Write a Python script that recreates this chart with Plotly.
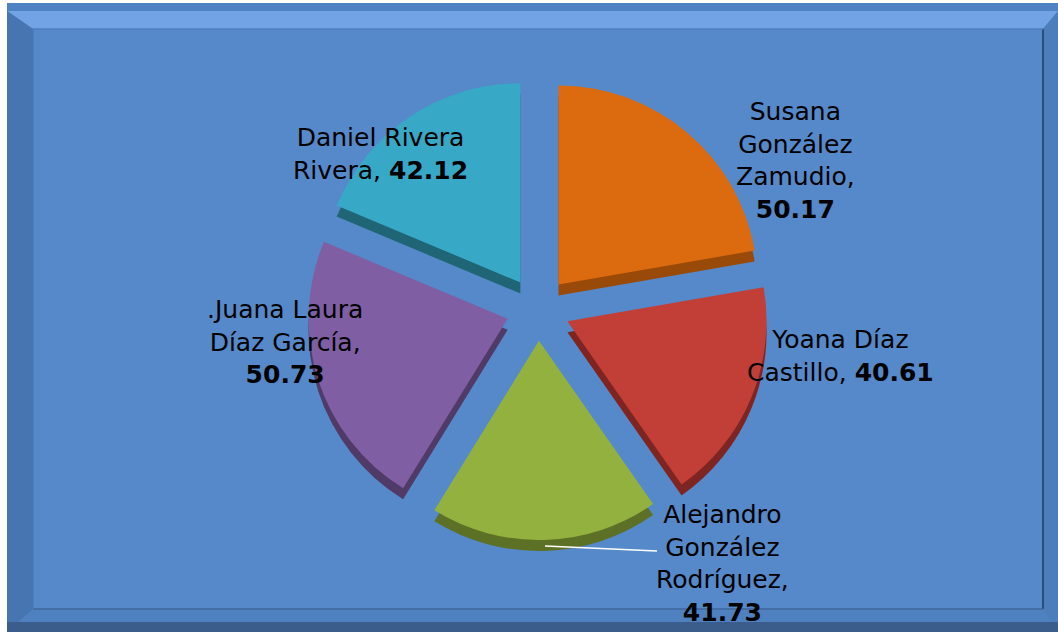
import plotly.graph_objects as go

# ---- data ----
names = ["Susana González Zamudio", "Yoana Díaz Castillo", "Alejandro González Rodríguez",
         ".Juana Laura Díaz García", "Daniel Rivera Rivera"]
values = [50.17, 40.61, 41.73, 50.73, 42.12]
label_lines = [["Susana", "González", "Zamudio,"], ["Yoana Díaz", "Castillo,"],
               ["Alejandro", "González", "Rodríguez,"], [".Juana Laura", "Díaz García,"],
               ["Daniel Rivera", "Rivera,"]]

# ---- styles ----
colors = ["#dc6a0e", "#c23f37", "#93b13f", "#7f5ea3", "#37a8c6"]
side_colors = ["#9a4a08", "#7e2522", "#5d7126", "#4f3a68", "#1f6575"]
label_pos = [(795, 160, "before"), (840, 356, "inline"), (722, 563, "before"),
             (285, 342, "before"), (380, 154, "inline")]

W, H = 1058, 632
BG = "#5689c9"


def px(x):
    return x / W


def py(y):
    return 1 - y / H


cx, cy, R = 538, 309, 231
depth = 11
dom_x = [px(cx - R), px(cx + R)]
dom_y = [py(cy + R), py(cy - R)]
dom_y_side = [py(cy + R + depth), py(cy - R + depth)]

fig = go.Figure()
pull = [0.16] * len(values)
# extruded side (3D look)
fig.add_trace(go.Pie(values=values, labels=names, sort=False, direction="clockwise", rotation=0,
                     pull=pull, marker=dict(colors=side_colors, line=dict(width=0)),
                     textinfo="none", hoverinfo="skip", showlegend=False,
                     domain=dict(x=dom_x, y=dom_y_side)))
fig.add_trace(go.Pie(values=values, labels=names, sort=False, direction="clockwise", rotation=0,
                     pull=pull, marker=dict(colors=colors, line=dict(width=0)),
                     textinfo="none", showlegend=False,
                     domain=dict(x=dom_x, y=dom_y)))


def path(points):
    return "M " + " L ".join(f"{px(x)},{py(y)}" for x, y in points) + " Z"


shapes = [
    dict(type="rect", xref="paper", yref="paper", x0=px(7), x1=1, y0=0, y1=py(3),
         fillcolor="#4f82c2", line=dict(width=0), layer="below"),
    # top bevel (light)
    dict(type="path", xref="paper", yref="paper",
         path=path([(7, 11), (1058, 11), (1043, 29), (33, 29)]),
         fillcolor="#72a3e4", line=dict(width=0), layer="below"),
    # left bevel
    dict(type="path", xref="paper", yref="paper",
         path=path([(7, 11), (33, 29), (33, 609), (7, 632)]),
         fillcolor="#4675b2", line=dict(width=0), layer="below"),
    # right bevel
    dict(type="path", xref="paper", yref="paper",
         path=path([(1058, 11), (1058, 632), (1043, 609), (1043, 29)]),
         fillcolor="#4d7dbb", line=dict(width=0), layer="below"),
    # bottom bevel
    dict(type="path", xref="paper", yref="paper",
         path=path([(7, 632), (1058, 632), (1043, 609), (33, 609)]),
         fillcolor="#4f80bf", line=dict(width=0), layer="below"),
    dict(type="rect", xref="paper", yref="paper", x0=px(7), x1=1, y0=0, y1=py(622),
         fillcolor="#3b5d8c", line=dict(width=0), layer="below"),
    # inner panel
    dict(type="rect", xref="paper", yref="paper", x0=px(33), x1=px(1043), y0=py(609), y1=py(29),
         fillcolor=BG, line=dict(width=0), layer="below"),
    dict(type="line", xref="paper", yref="paper", x0=px(1043), x1=px(1043), y0=py(609), y1=py(29),
         line=dict(color="#1e3b63", width=1.5), layer="below"),
    dict(type="line", xref="paper", yref="paper", x0=px(33), x1=px(1043), y0=py(609), y1=py(609),
         line=dict(color="#3f669c", width=1.5), layer="below"),
    dict(type="line", xref="paper", yref="paper", x0=px(33), x1=px(33), y0=py(609), y1=py(29),
         line=dict(color="#4a78b5", width=1.5), layer="below"),
    dict(type="line", xref="paper", yref="paper", x0=px(33), x1=px(1043), y0=py(29), y1=py(29),
         line=dict(color="#4e7fbf", width=1.5), layer="below"),
    # leader line
    dict(type="path", xref="paper", yref="paper",
         path=f"M {px(545)},{py(546)} L {px(657)},{py(551)}",
         line=dict(color="white", width=1.5)),
]

annotations = []
for lines, v, (x, y, mode) in zip(label_lines, values, label_pos):
    if mode == "inline":
        txt = "<br>".join(lines[:-1] + [lines[-1] + f" <b>{v:.2f}</b>"])
    else:
        txt = "<br>".join(lines + [f"<b>{v:.2f}</b>"])
    annotations.append(dict(x=px(x), y=py(y), xref="paper", yref="paper", text=txt,
                            showarrow=False, align="center", xanchor="center", yanchor="middle",
                            font=dict(family="DejaVu Sans", size=25, color="black")))

fig.update_layout(width=W, height=H, margin=dict(l=0, r=0, t=0, b=0),
                  paper_bgcolor="white", plot_bgcolor=BG,
                  shapes=shapes, annotations=annotations, showlegend=False)

fig.write_html("out.html", post_script="document.body.style.margin='0';",
               config={"displayModeBar": False})
